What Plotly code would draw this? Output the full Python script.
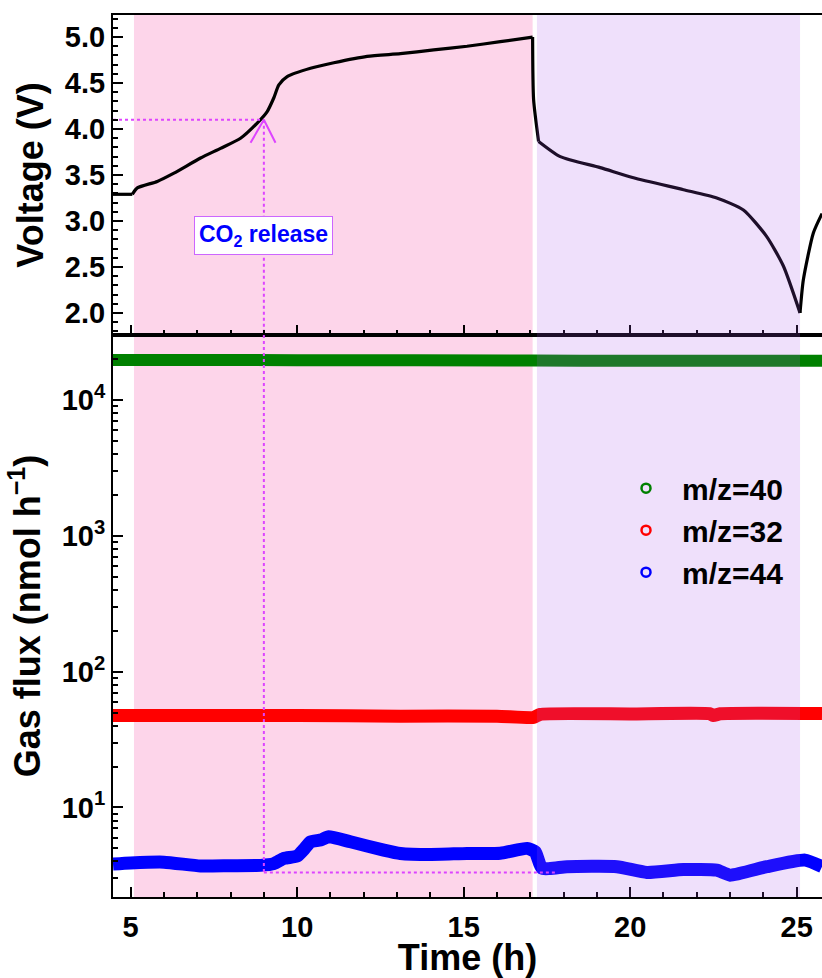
import plotly.graph_objects as go
from plotly.subplots import make_subplots

# ---------------- data ----------------
v_time = [4.47, 5.05, 5.2, 5.8, 6.3, 7.1, 7.7, 8.3, 8.8, 9.1, 9.3, 9.45, 9.7, 10.4, 11.1,
          12.1, 13.1, 14.1, 15.1, 16.1, 17.07, 17.1, 17.25, 17.9, 19.1, 20.1, 21.6, 22.6,
          23.4, 24.1, 24.6, 25.1, 25.2, 25.5, 25.76]
voltage = [3.29, 3.29, 3.36, 3.43, 3.52, 3.685, 3.79, 3.90, 4.065, 4.19, 4.34, 4.48, 4.57,
           4.66, 4.72, 4.79, 4.82, 4.86, 4.90, 4.95, 5.0, 4.32, 3.865, 3.70, 3.58, 3.47,
           3.34, 3.25, 3.12, 2.83, 2.51, 2.0, 2.36, 2.87, 3.08]
# indices where the voltage curve has sharp corners (charge start, end of charge, end of discharge)
v_breaks = [1, 20, 22, 31]

g_time = [4.47, 10.0, 17.1, 20.0, 25.76]
flux_40 = [19800, 19700, 19600, 19500, 19500]

r_time = [4.47, 10.0, 13.1, 16.0, 17.1, 17.3, 20.0, 22.4, 22.5, 22.7, 25.76]
flux_32 = [47.5, 47.5, 47.0, 47.0, 46.0, 48.5, 48.8, 49.0, 47.5, 49.0, 49.2]

b_time = [4.47, 5.0, 6.0, 7.1, 8.0, 8.9, 9.3, 9.6, 10.0, 10.2, 10.4, 10.7, 10.95, 11.6,
          12.6, 13.1, 14.0, 15.1, 16.1, 16.9, 17.15, 17.35, 18.1, 19.6, 20.5, 21.6, 22.6,
          23.0, 24.1, 25.25, 25.76]
flux_44 = [3.83, 3.9, 3.95, 3.70, 3.72, 3.74, 3.85, 4.21, 4.38, 4.9, 5.58, 5.75, 6.07, 5.58,
           4.85, 4.58, 4.5, 4.58, 4.6, 4.99, 4.7, 3.56, 3.66, 3.66, 3.32, 3.49, 3.45, 3.17,
           3.66, 4.09, 3.66]

series_names = ["m/z=40", "m/z=32", "m/z=44"]
series_colors = ["#008000", "#FF0000", "#0000FF"]

x_ticks = [5, 10, 15, 20, 25]
v_ticks = [2.0, 2.5, 3.0, 3.5, 4.0, 4.5, 5.0]
flux_ticks = [10, 100, 1000, 10000]
flux_ticktext = ["10<sup>1</sup>", "10<sup>2</sup>", "10<sup>3</sup>", "10<sup>4</sup>"]
flux_minor = [m * d for d in [1, 10, 100, 1000, 10000] for m in range(2, 10)]

charge_window = [5.1, 17.07]
discharge_window = [17.2, 25.1]

release_time = 9.0
release_voltage = 4.1
release_flux = 3.32
release_flux_end = 17.8
arrow_x = [8.6, 9.0, 9.35]
arrow_v = [3.85, 4.1, 3.85]
label_v = 2.84

x_range = [4.47, 25.76]
v_range = [1.76, 5.24]
f_range_log = [0.34, 4.48]

# ---------------- figure ----------------
FONT = "Liberation Sans, Arial, sans-serif"
MAG = "#DD44FF"

fig = make_subplots(rows=2, cols=1, shared_xaxes=True, vertical_spacing=0,
                    row_heights=[0.3628, 0.6372])

# voltage curve, smoothed piecewise between sharp corners
seg_edges = [0] + v_breaks + [len(v_time) - 1]
for a, b in zip(seg_edges[:-1], seg_edges[1:]):
    fig.add_trace(go.Scatter(x=v_time[a:b + 1], y=voltage[a:b + 1], mode="lines",
                             line=dict(color="black", width=3.2, shape="spline", smoothing=0.6),
                             showlegend=False), row=1, col=1)

for t, f, c, w in [(g_time, flux_40, series_colors[0], 12),
                   (r_time, flux_32, series_colors[1], 13),
                   (b_time, flux_44, series_colors[2], 13)]:
    fig.add_trace(go.Scatter(x=t, y=f, mode="lines",
                             line=dict(color=c, width=w, shape="spline", smoothing=0.5),
                             showlegend=False), row=2, col=1)

# legend entries
for n, c in zip(series_names, series_colors):
    fig.add_trace(go.Scatter(x=[None], y=[None], mode="markers", name=n,
                             marker=dict(symbol="circle-open", size=9, color=c,
                                         line=dict(width=2.5, color=c))), row=2, col=1)

# dotted guide lines
dot = dict(color=MAG, width=2, dash="dot")
fig.add_trace(go.Scatter(x=[x_range[0], release_time], y=[release_voltage, release_voltage],
                         mode="lines", line=dot, showlegend=False), row=1, col=1)
fig.add_trace(go.Scatter(x=[release_time, release_time], y=[release_voltage, v_range[0]],
                         mode="lines", line=dot, showlegend=False), row=1, col=1)
fig.add_trace(go.Scatter(x=[release_time, release_time], y=[10 ** f_range_log[1], release_flux],
                         mode="lines", line=dot, showlegend=False), row=2, col=1)
fig.add_trace(go.Scatter(x=[release_time, release_flux_end], y=[release_flux, release_flux],
                         mode="lines", line=dot, showlegend=False), row=2, col=1)
fig.add_trace(go.Scatter(x=arrow_x, y=arrow_v, mode="lines",
                         line=dict(color=MAG, width=2), showlegend=False), row=1, col=1)

shapes = []
for yr in ["y domain", "y2 domain"]:
    xr = "x" if yr == "y domain" else "x2"
    shapes.append(dict(type="rect", xref=xr, yref=yr, x0=charge_window[0], x1=charge_window[1],
                       y0=0, y1=1, fillcolor="#FDD5EA", line=dict(width=0), layer="below"))
    shapes.append(dict(type="rect", xref=xr, yref=yr, x0=discharge_window[0],
                       x1=discharge_window[1], y0=0, y1=1,
                       fillcolor="rgba(168,81,234,0.18)", line=dict(width=0), layer="above"))
fig.update_layout(shapes=shapes)

fig.add_annotation(x=release_time, y=label_v, xref="x", yref="y",
                   text="CO<sub>2</sub> release", showarrow=False,
                   font=dict(family=FONT, size=23, color="#0000FF", weight="bold"),
                   bgcolor="white", bordercolor="#CC66FF", borderwidth=1, borderpad=4)

tickfont = dict(family=FONT, size=29, color="black", weight="bold")
titlefont = dict(family=FONT, size=36, color="black", weight="bold")

common_x = dict(range=x_range, showline=True, linecolor="black", linewidth=2, mirror=True,
                ticks="inside", ticklen=10, tickwidth=2, tickcolor="black",
                tickvals=x_ticks, showgrid=False, zeroline=False,
                minor=dict(ticks="inside", ticklen=5, tickwidth=1.5, tickcolor="black", dtick=1))
fig.update_xaxes(**common_x, showticklabels=False, row=1, col=1)
fig.update_xaxes(**common_x, showticklabels=True, tickfont=tickfont, ticklabelstandoff=3,
                 title=dict(text="Time (h)", font=titlefont, standoff=6), row=2, col=1)

fig.update_yaxes(range=v_range, showline=True, linecolor="black", linewidth=2,
                 ticks="inside", ticklen=10, tickwidth=2, tickcolor="black",
                 tickvals=v_ticks, tickformat=".1f", tickfont=tickfont, ticklabelstandoff=0,
                 showgrid=False, zeroline=False,
                 minor=dict(ticks="inside", ticklen=5, tickwidth=1.5, tickcolor="black", dtick=0.1),
                 title=dict(text="Voltage (V)", font=titlefont, standoff=10), row=1, col=1)
fig.update_yaxes(type="log", range=f_range_log, showline=True, linecolor="black", linewidth=2,
                 ticks="inside", ticklen=10, tickwidth=2, tickcolor="black",
                 tickvals=flux_ticks, ticktext=flux_ticktext, tickfont=tickfont,
                 ticklabelstandoff=0, showgrid=False, zeroline=False,
                 minor=dict(ticks="inside", ticklen=5, tickwidth=1.5, tickcolor="black",
                            tickvals=flux_minor),
                 title=dict(text="Gas flux (nmol h<sup>\u22121</sup>)", font=titlefont, standoff=10),
                 row=2, col=1)

fig.update_layout(
    width=822, height=978,
    margin=dict(l=113, r=0, t=15, b=81),
    plot_bgcolor="white", paper_bgcolor="white",
    font=dict(family=FONT, color="black"),
    legend=dict(x=0.701, y=0.493, xanchor="left", yanchor="top", itemwidth=62,
                bgcolor="rgba(0,0,0,0)", borderwidth=0,
                font=dict(family=FONT, size=30, color="black", weight="bold")),
)

# remove the default page margin so the figure fills the window exactly
fig.write_html("out.html", config={"displayModeBar": False},
               post_script="document.body.style.margin='0';document.body.style.overflow='hidden';")
